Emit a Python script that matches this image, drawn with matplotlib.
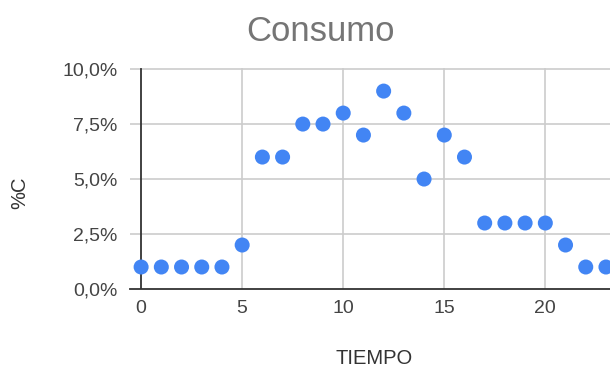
import matplotlib.pyplot as plt
from matplotlib.ticker import FuncFormatter

plt.rcParams['font.family'] = ['Liberation Sans', 'DejaVu Sans']

# consumption per time step (%C)
tiempo = list(range(24))
consumo = [1, 1, 1, 1, 1, 2, 6, 6, 7.5, 7.5, 8, 7, 9, 8, 5, 7, 6, 3, 3, 3, 3, 2, 1, 1]
y_ticks = [0, 2.5, 5, 7.5, 10]
x_ticks = [0, 5, 10, 15, 20]

blue = '#4285f4'
grid_col = '#cccccc'
axis_col = '#333333'
text_col = '#444444'

fig = plt.figure(figsize=(6.10, 3.69), dpi=100)
ax = fig.add_axes([130 / 610, 80 / 369, 1 - 130 / 610, 221 / 369])

ax.set_xlim(-0.55, 23.2)
ax.set_ylim(0, 10.05)

ax.set_xticks(x_ticks)
ax.set_yticks(y_ticks)
ax.yaxis.set_major_formatter(FuncFormatter(lambda v, p: f'{v:.1f}%'.replace('.', ',')))
ax.tick_params(length=0, labelsize=14, colors=text_col)
ax.tick_params(axis='x', pad=8)
ax.tick_params(axis='y', pad=9)

for s in ax.spines.values():
    s.set_visible(False)

# light gridlines, vertical ones skip the zero axis
for y in y_ticks[1:]:
    ax.axhline(y, color=grid_col, lw=1.2, zorder=1)
for x in x_ticks[1:]:
    ax.axvline(x, color=grid_col, lw=1.2, zorder=1)

ax.axhline(0, color=axis_col, lw=1.3, zorder=2, clip_on=False)
ax.plot([0, 0], [0, 10], color=axis_col, lw=1.3, zorder=2)

ax.scatter(tiempo, consumo, s=117, color=blue, edgecolors='none', zorder=3, clip_on=False)

fig.text(321 / 610, 1 - 41 / 369, 'Consumo', fontsize=25, color='#757575', ha='center', va='baseline')
fig.text(374 / 610, 1 - 359 / 369, 'TIEMPO', fontsize=14.5, color=axis_col, ha='center', va='center')
fig.text(20 / 610, 1 - 193 / 369, '%C', fontsize=14.5, color=axis_col, ha='center', va='center', rotation=90)

fig.savefig('out.png', dpi=100)
